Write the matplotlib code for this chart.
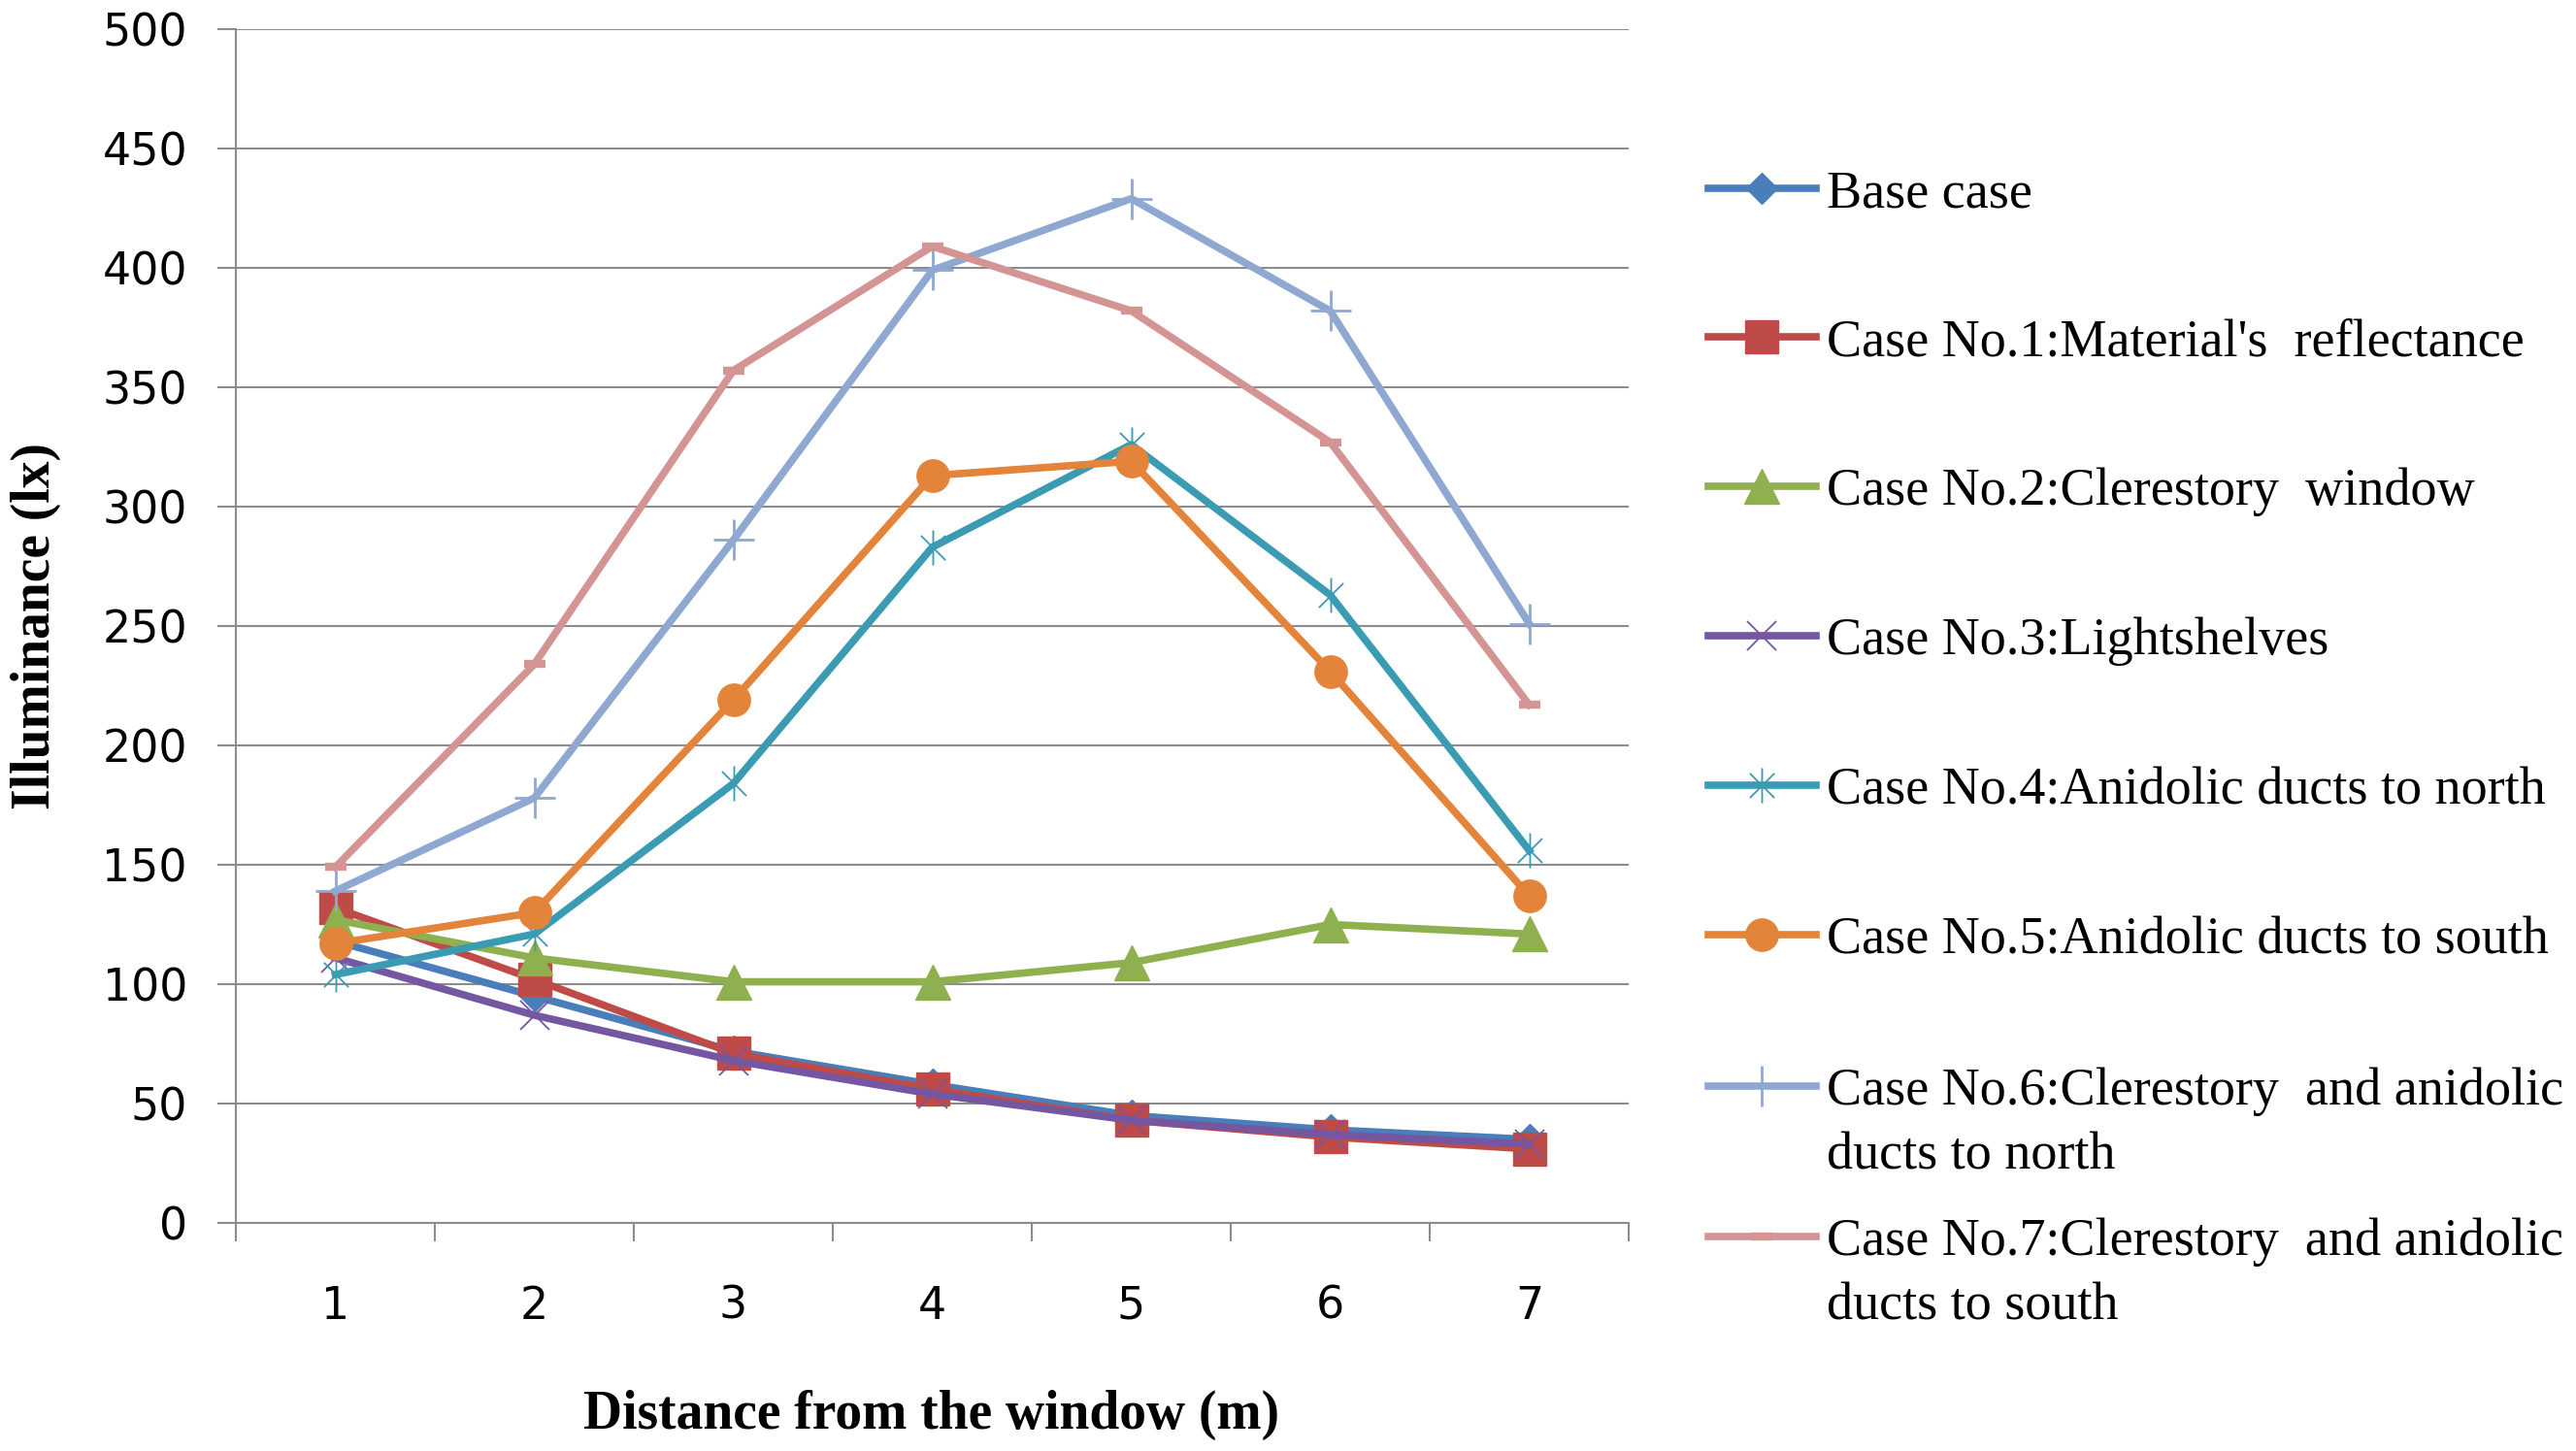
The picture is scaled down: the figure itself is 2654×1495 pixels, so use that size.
import matplotlib
matplotlib.use("Agg")
import matplotlib.pyplot as plt
from matplotlib.lines import Line2D
from matplotlib.path import Path

# valeurs
distance = [1, 2, 3, 4, 5, 6, 7]
base_case = [118, 95, 72, 58, 45, 39, 35]
case1 = [132, 102, 71, 56, 43, 36, 31]
case2 = [127, 111, 101, 101, 109, 125, 121]
case3 = [111, 87, 68, 54, 43, 37, 33]
case4 = [104, 121, 184, 283, 326, 263, 156]
case5 = [117, 130, 219, 313, 319, 231, 137]
case6 = [139, 178, 286, 399, 429, 382, 251]
case7 = [149, 234, 357, 409, 382, 327, 217]

labels = [
    "Base case",
    "Case No.1:Material's  reflectance",
    "Case No.2:Clerestory  window",
    "Case No.3:Lightshelves",
    "Case No.4:Anidolic ducts to north",
    "Case No.5:Anidolic ducts to south",
    "Case No.6:Clerestory  and anidolic\nducts to north",
    "Case No.7:Clerestory  and anidolic\nducts to south",
]
series = [base_case, case1, case2, case3, case4, case5, case6, case7]

# marqueur étoile façon Excel (X + trait vertical)
star = Path([(0, -1), (0, 1), (-0.7, -0.7), (0.7, 0.7), (-0.7, 0.7), (0.7, -0.7)],
            [Path.MOVETO, Path.LINETO, Path.MOVETO, Path.LINETO, Path.MOVETO, Path.LINETO])

styles = [
    dict(color="#4A7EBB", marker="D", ms=16, mew=1),
    dict(color="#BE4B48", marker="s", ms=24, mew=1),
    dict(color="#8EB04F", marker="^", ms=26, mew=1),
    dict(color="#7457A0", marker="x", ms=22, mew=1.3),
    dict(color="#3B9BB3", marker=star, ms=26, mew=1.3),
    dict(color="#E3843A", marker="o", ms=24, mew=1),
    dict(color="#8EA8D2", marker="+", ms=30, mew=2),
    dict(color="#D49493", marker="_", ms=16, mew=6),
]

W, H = 2654, 1495
fig = plt.figure(figsize=(W / 100, H / 100), dpi=100)
ax = fig.add_axes([243 / W, 235 / H, 1435 / W, 1230 / H])

grey = "#8C8C8C"
for y, st in zip(series, styles):
    ax.plot(distance, y, color=st["color"], lw=5.5, marker=st["marker"],
            ms=st["ms"], mew=st["mew"], mfc=st["color"], mec=st["color"])

ax.set_xlim(0.5, 7.5)
ax.set_ylim(0, 500)
ax.set_yticks(range(0, 501, 50))
ax.set_xticks(distance)
ax.set_xticks([x + 0.5 for x in range(0, 8)], minor=True)
ax.tick_params(axis="x", which="major", length=0, pad=46, labelsize=33)
ax.tick_params(axis="x", which="minor", length=14, width=1.5, color=grey)
ax.tick_params(axis="y", length=14, width=1.5, color=grey, pad=22, labelsize=33)
ax.grid(axis="y", color=grey, lw=1.5)
ax.set_axisbelow(True)
for s in ["top", "right"]:
    ax.spines[s].set_visible(False)
for s in ["left", "bottom"]:
    ax.spines[s].set_color(grey)
    ax.spines[s].set_linewidth(1.5)

fig.text(960 / W, 1 - 1458 / H, "Distance from the window (m)", family="Liberation Serif",
         weight="bold", fontsize=40, ha="center", va="center")
fig.text(37 / W, 1 - 645 / H, "Illuminance (lx)", family="Liberation Serif",
         weight="bold", fontsize=40, ha="center", va="center", rotation=90)

# légende construite à la main (poignée alignée sur la première ligne)
rows = [194, 347, 501, 655, 809, 963, 1119, 1274]
for lab, st, py in zip(labels, styles, rows):
    fy = 1 - py / H
    fig.add_artist(Line2D([1760 / W, 1815 / W, 1871 / W], [fy, fy, fy], color=st["color"],
                          lw=5.5, marker=st["marker"], ms=st["ms"], mew=st["mew"],
                          mfc=st["color"], mec=st["color"], markevery=[1],
                          transform=fig.transFigure))
    for i, part in enumerate(lab.split("\n")):
        fig.text(1882 / W, 1 - (py + i * 66) / H, part, family="Liberation Serif",
                 fontsize=39, ha="left", va="center_baseline")

fig.savefig("out.png", dpi=100, facecolor="white")
